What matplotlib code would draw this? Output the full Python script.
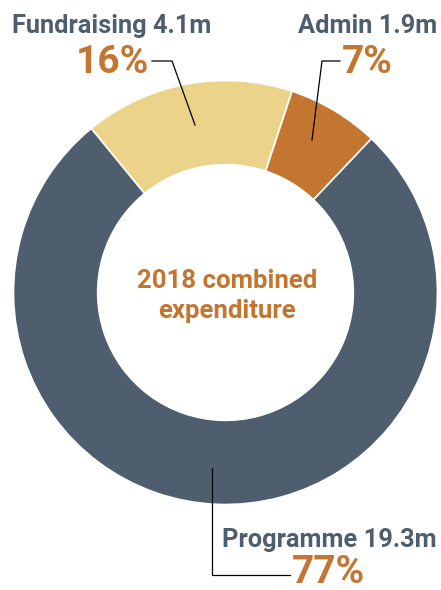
import matplotlib
matplotlib.use("Agg")
import matplotlib.pyplot as plt

# shares of 2018 combined expenditure (%), clockwise from Fundraising
categories = ["Fundraising", "Admin", "Programme"]
shares = [16, 7, 77]
amounts = ["4.1m", "1.9m", "19.3m"]
colors = ["#ebd48a", "#c47530", "#4f5e6f"]
centre_lines = ["2018 combined", "expenditure"]

SLATE = "#4f5e6f"
ORANGE = "#c47530"
FONT = ["Roboto", "DejaVu Sans"]

W, H = 441, 590
fig = plt.figure(figsize=(W / 100, H / 100), dpi=100)
ax = fig.add_axes([0, 0, 1, 1])


def py(y):
    # pixel row (from top) -> data y
    return H - y


cx, cy, R = 225.5, py(292.5), 212
ax.pie(shares, colors=colors, startangle=129.3, counterclock=False,
       center=(cx, cy), radius=R,
       wedgeprops=dict(width=R * 0.397, edgecolor="white", linewidth=1.2))

# pie() resets the limits, so set them afterwards
ax.set_xlim(0, W)
ax.set_ylim(0, H)
ax.set_aspect("equal")
ax.axis("off")

for line, base in zip(centre_lines, [288, 318]):
    ax.text(227, py(base), line, ha="center", va="baseline",
            color=ORANGE, fontsize=18.5, fontweight="bold", family=FONT)

# Fundraising
ax.text(12, py(33), f"{categories[0]} {amounts[0]}", ha="left", va="baseline",
        color=SLATE, fontsize=18.3, fontweight="bold", family=FONT)
ax.text(76, py(73), f"{shares[0]}%", ha="left", va="baseline",
        color=ORANGE, fontsize=28, fontweight="bold", family=FONT)
ax.plot([152, 172, 195], [py(61), py(61), py(125)], color="black", lw=0.9)

# Admin
ax.text(437, py(33), f"{categories[1]} {amounts[1]}", ha="right", va="baseline",
        color=SLATE, fontsize=18.3, fontweight="bold", family=FONT)
ax.text(342, py(73), f"{shares[1]}%", ha="left", va="baseline",
        color=ORANGE, fontsize=28, fontweight="bold", family=FONT)
ax.plot([340, 322, 312], [py(61), py(61), py(140)], color="black", lw=0.9)

# Programme
ax.text(437, py(547), f"{categories[2]} {amounts[2]}", ha="right", va="baseline",
        color=SLATE, fontsize=18.3, fontweight="bold", family=FONT)
ax.text(292, py(583), f"{shares[2]}%", ha="left", va="baseline",
        color=ORANGE, fontsize=28, fontweight="bold", family=FONT)
ax.plot([212, 212, 290], [py(468), py(575), py(575)], color="black", lw=0.9)

fig.savefig("out.png", dpi=100)
